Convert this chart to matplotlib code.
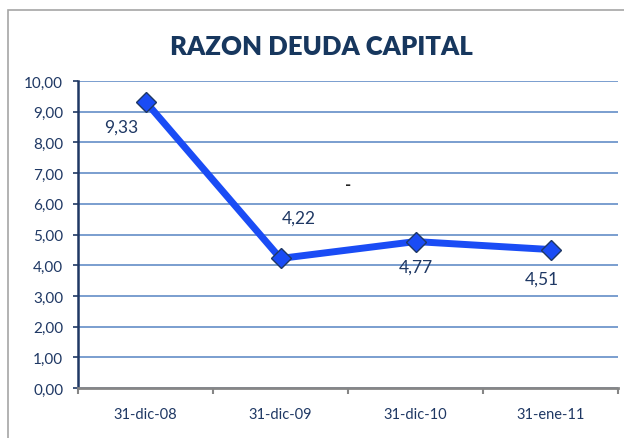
import matplotlib
matplotlib.use("Agg")
import matplotlib.pyplot as plt
from matplotlib.patches import Rectangle

categories = ["31-dic-08", "31-dic-09", "31-dic-10", "31-ene-11"]
values = [9.33, 4.22, 4.77, 4.51]
value_labels = ["9,33", "4,22", "4,77", "4,51"]
yticks = [0, 1, 2, 3, 4, 5, 6, 7, 8, 9, 10]
ytick_labels = ["0,00", "1,00", "2,00", "3,00", "4,00", "5,00", "6,00", "7,00", "8,00", "9,00", "10,00"]
title = "RAZON DEUDA CAPITAL"

plt.rcParams['font.family'] = ['Lato', 'DejaVu Sans']
navy = '#1f3864'

fig = plt.figure(figsize=(6.24, 4.39), dpi=100)
ax = fig.add_axes([78/624, 1-389/439, (618-78)/624, (389-82)/439])

x = list(range(len(categories)))
ax.plot(x, values, color='#1a4cf5', lw=5, marker='D', markersize=10,
        markerfacecolor='#1a4cf5', markeredgecolor='#1f3864', markeredgewidth=1, zorder=3, clip_on=False)

offsets = [(-24, -25), (18, 41), (0, -25), (-9, -29)]
for xi, v, lab, off in zip(x, values, value_labels, offsets):
    ax.annotate(lab, (xi, v), xytext=off, textcoords='offset pixels',
                ha='center', va='center', fontsize=12.5, color=navy)

# stray dash in reference
ax.annotate("-", (1.5, 6.65), ha='center', va='center', fontsize=12, fontweight='bold', color='#222222')

ax.set_xlim(-0.5, len(categories) - 0.5)
ax.set_ylim(0, 10)
ax.set_yticks(yticks)
ax.set_yticklabels(ytick_labels, fontsize=11, color=navy)
ax.set_xticks(x)
ax.set_xticklabels(categories, fontsize=10.5, color=navy)
ax.tick_params(axis='x', length=0, pad=14)
ax.set_xticks([i - 0.5 for i in range(len(categories) + 1)], minor=True)
ax.tick_params(axis='x', which='minor', length=4, color='#868686', width=1.5)
ax.tick_params(axis='y', length=3.6, color=navy, width=1.2, pad=7)

ax.grid(axis='y', color='#6f96cc', lw=1.3)
ax.set_axisbelow(True)
for s in ['top', 'right']:
    ax.spines[s].set_visible(False)
ax.spines['left'].set_color(navy)
ax.spines['left'].set_linewidth(1.8)
ax.spines['bottom'].set_color('#868686')
ax.spines['bottom'].set_linewidth(2)
ax.spines['bottom'].set_zorder(2.5)

fig.text(321/624, 1-47/439, title, ha='center', va='center', fontsize=18.5,
         fontweight='heavy', color='#17375e')

fig.patches.append(Rectangle((8/624, -0.1), 1.2, 1 - 11/439 + 0.1, transform=fig.transFigure,
                             fill=False, edgecolor='#a6a6a6', lw=1.2, clip_on=False))

fig.savefig("out.png", dpi=100)
